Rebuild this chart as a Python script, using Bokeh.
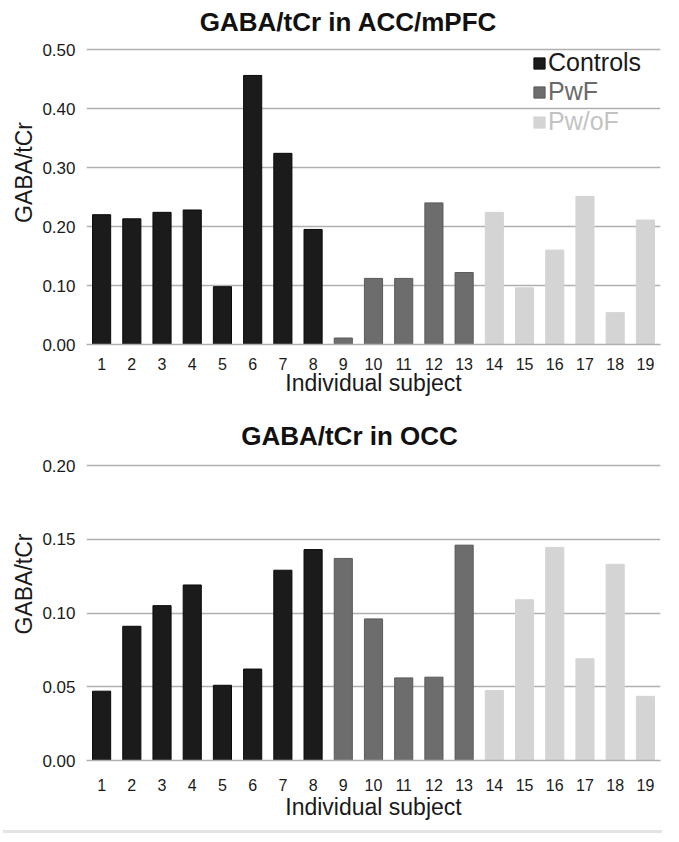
from bokeh.plotting import figure
from bokeh.models import (FactorRange, Range1d, FixedTicker, PrintfTickFormatter,
                          Legend, LegendItem, ColumnDataSource, Div, Label)
from bokeh.layouts import column
from bokeh.embed import file_html
from bokeh.resources import INLINE

# ---------------- data ----------------
subjects = [str(i) for i in range(1, 20)]
groups = ["Controls"] * 8 + ["PwF"] * 5 + ["Pw/oF"] * 6
acc_values = [0.220, 0.213, 0.224, 0.228, 0.098, 0.456, 0.324, 0.195,
              0.011, 0.112, 0.112, 0.240, 0.122,
              0.224, 0.096, 0.160, 0.251, 0.054, 0.211]
occ_values = [0.047, 0.091, 0.105, 0.119, 0.051, 0.062, 0.129, 0.143,
              0.137, 0.096, 0.056, 0.0565, 0.146,
              0.0475, 0.109, 0.1445, 0.069, 0.133, 0.0435]
group_names = ["Controls", "PwF", "Pw/oF"]
acc_ticks = [0.0, 0.1, 0.2, 0.3, 0.4, 0.5]
occ_ticks = [0.0, 0.05, 0.10, 0.15, 0.20]
acc_title = "GABA/tCr in ACC/mPFC"
occ_title = "GABA/tCr in OCC"
x_label = "Individual subject"
y_label = "GABA/tCr"

# ---------------- styles ----------------
FONT = "Liberation Sans"
fill_colors = {"Controls": "#1b1b1b", "PwF": "#6d6d6d", "Pw/oF": "#d4d4d4"}
line_colors = {"Controls": "#0a0a0a", "PwF": "#5a5a5a", "Pw/oF": "#d4d4d4"}
legend_text_colors = {"Controls": "#1a1a1a", "PwF": "#6a6a6a", "Pw/oF": "#c3c3c3"}
GRID = "#b0b0b0"
FRAME_W, PLOT_H = 574, 295   # plotted area (axis max at PLOT_H px above the baseline)


def make_chart(title, values, ticks, ymax, head_px, bottom_border,
               title_x, title_gap, tick_standoff, label_standoff, with_legend):
    # the frame extends head_px above the axis maximum to host the title
    frame_h = PLOT_H + head_px
    p = figure(x_range=FactorRange(factors=subjects),
               y_range=Range1d(0, ymax * frame_h / PLOT_H),
               frame_width=FRAME_W, frame_height=frame_h,
               min_border_left=86, min_border_right=11,
               min_border_top=0, min_border_bottom=bottom_border,
               output_backend="svg", toolbar_location=None)

    p.add_layout(Label(x=title_x, y=PLOT_H + title_gap, x_units="screen", y_units="screen",
                       text=title, text_align="center", text_baseline="alphabetic",
                       text_font=FONT, text_font_size="26px", text_font_style="bold",
                       text_color="#111111"))

    renderers = {}
    for g in group_names:
        xs = [s for s, gg in zip(subjects, groups) if gg == g]
        ys = [v for v, gg in zip(values, groups) if gg == g]
        src = ColumnDataSource(dict(x=xs, top=ys))
        r = p.vbar(x="x", top="top", width=0.6, bottom=0, source=src,
                   fill_color=fill_colors[g], line_color=line_colors[g], line_width=1)
        renderers[g] = r

    p.outline_line_color = None
    p.xgrid.grid_line_color = None
    p.ygrid.grid_line_color = GRID
    p.ygrid.grid_line_width = 1.5
    p.yaxis.ticker = FixedTicker(ticks=ticks)
    p.yaxis.formatter = PrintfTickFormatter(format="%.2f")
    p.yaxis.axis_line_color = None
    p.yaxis.major_tick_line_color = None
    p.yaxis.minor_tick_line_color = None
    p.yaxis.major_label_text_font = FONT
    p.yaxis.major_label_text_font_size = "17px"
    p.yaxis.major_label_text_color = "#1a1a1a"
    p.yaxis.major_label_standoff = 5
    p.yaxis.axis_label = y_label
    p.yaxis.axis_label_text_font = FONT
    p.yaxis.axis_label_text_font_size = "23px"
    p.yaxis.axis_label_text_font_style = "normal"
    p.yaxis.axis_label_text_color = "#1a1a1a"
    p.yaxis.axis_label_standoff = 2

    p.xaxis.axis_line_color = GRID
    p.xaxis.axis_line_width = 1.5
    p.xaxis.major_tick_line_color = None
    p.xaxis.minor_tick_line_color = None
    p.xaxis.major_label_text_font = FONT
    p.xaxis.major_label_text_font_size = "16px"
    p.xaxis.major_label_text_color = "#1a1a1a"
    p.xaxis.major_label_standoff = tick_standoff
    p.xaxis.axis_label = x_label
    p.xaxis.axis_label_text_font = FONT
    p.xaxis.axis_label_text_font_size = "23px"
    p.xaxis.axis_label_text_font_style = "normal"
    p.xaxis.axis_label_text_color = "#1a1a1a"
    p.xaxis.axis_label_standoff = label_standoff

    if with_legend:
        centers = [14, 43, 73]  # row centres, px below the axis maximum line
        row_h = 28
        for g, cy in zip(group_names, centers):
            leg = Legend(items=[LegendItem(label=g, renderers=[renderers[g]])],
                         location=(446, PLOT_H - (cy + row_h / 2)),
                         glyph_width=14, glyph_height=14, label_standoff=2,
                         padding=0, margin=0, border_line_color=None,
                         background_fill_alpha=0, label_height=22,
                         label_text_font=FONT, label_text_font_size="25px",
                         label_text_color=legend_text_colors[g])
            p.add_layout(leg)
    return p


p1 = make_chart(acc_title, acc_values, acc_ticks, 0.5, 49, 63, 262, 28, 7, -3, True)
p2 = make_chart(occ_title, occ_values, occ_ticks, 0.2, 58, 65, 263, 30, 12, 0, False)
sep = Div(text="", width=659, height=4,
          styles={"border-top": "3px solid #e4e4e4", "margin-left": "3px"})

layout = column(p1, p2, sep, spacing=0)
open("out.html", "w").write(file_html(layout, INLINE))
